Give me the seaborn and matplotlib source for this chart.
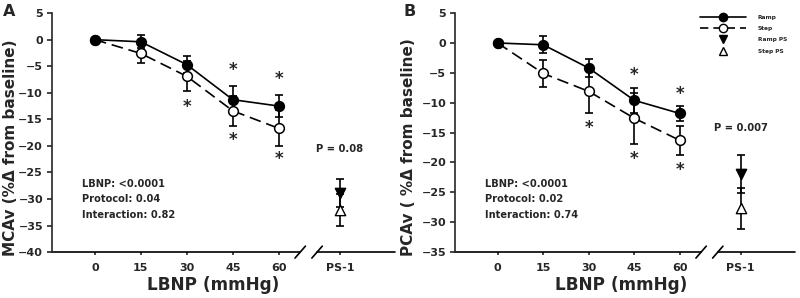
import numpy as np
import pandas as pd
import matplotlib
matplotlib.use("Agg")
import matplotlib.pyplot as plt
from matplotlib.lines import Line2D
import seaborn as sns

sns.set_style("ticks")
plt.rcParams["font.family"] = ["DejaVu Sans"]
plt.rcParams["font.weight"] = "bold"
plt.rcParams["axes.labelweight"] = "bold"

# LBNP levels (mmHg) and post-stress position
lbnp = [0, 15, 30, 45, 60]
ps_pos = 80
xtick_labels = ["0", "15", "30", "45", "60", "PS-1"]

# panel A: MCAv (% change from baseline)
mca_ramp = [0, -0.4, -4.7, -11.3, -12.5]
mca_ramp_err = [0, 1.2, 1.6, 2.5, 2.1]
mca_step = [0, -2.6, -6.9, -13.4, -16.7]
mca_step_err = [0, 1.7, 2.8, 2.8, 3.4]
mca_ps = [-28.9, -32.0]          # ramp PS, step PS
mca_ps_err = [2.7, 3.0]
mca_star_x = [30, 45, 45, 60, 60]
mca_star_y = [-12.6, -5.8, -18.8, -7.5, -22.5]
mca_stats = "LBNP: <0.0001\nProtocol: 0.04\nInteraction: 0.82"
mca_p = "P = 0.08"

# panel B: PCAv (% change from baseline)
pca_ramp = [0, -0.3, -4.2, -9.6, -11.8]
pca_ramp_err = [0, 1.45, 1.5, 2.1, 1.2]
pca_step = [0, -5.1, -8.1, -12.6, -16.3]
pca_step_err = [0, 2.3, 3.6, 4.3, 2.4]
pca_ps = [-21.9, -27.7]
pca_ps_err = [3.2, 3.4]
pca_star_x = [30, 45, 45, 60, 60]
pca_star_y = [-14.2, -5.4, -19.4, -8.6, -21.2]
pca_stats = "LBNP: <0.0001\nProtocol: 0.02\nInteraction: 0.74"
pca_p = "P = 0.007"


def draw_panel(ax, ramp, ramp_err, step, step_err, ps, ps_err,
               star_x, star_y, stats, ptxt, ylab, ylim, stats_y, p_y,
               ylab_pos, xlab_x):
    df = pd.DataFrame({"LBNP": lbnp * 2,
                       "val": ramp + step,
                       "err": ramp_err + step_err,
                       "protocol": ["Ramp"] * 5 + ["Step"] * 5})
    for prot, ls, mfc, z in [("Step", (0, (7, 3.5)), "white", 3), ("Ramp", "-", "black", 4)]:
        sub = df[df.protocol == prot]
        ax.errorbar(sub.LBNP, sub.val, yerr=sub.err, fmt="none", ecolor="black",
                    elinewidth=1.2, capsize=3.2, capthick=1.2, zorder=2)
        sns.lineplot(data=sub, x="LBNP", y="val", ax=ax, color="black", linestyle=ls,
                     linewidth=1.2, marker="o", markersize=7, markerfacecolor=mfc,
                     markeredgecolor="black", markeredgewidth=1.1, errorbar=None,
                     zorder=z)
    # post-stress points
    ax.errorbar([ps_pos, ps_pos], ps, yerr=ps_err, fmt="none", ecolor="black",
                elinewidth=1.2, capsize=3.2, capthick=1.2, zorder=2)
    psdf = pd.DataFrame({"x": [ps_pos, ps_pos], "y": ps, "kind": ["Ramp PS", "Step PS"]})
    sns.scatterplot(data=psdf[psdf.kind == "Ramp PS"], x="x", y="y", ax=ax, marker="v",
                    s=55, color="black", edgecolor="black", linewidth=1, zorder=4)
    sns.scatterplot(data=psdf[psdf.kind == "Step PS"], x="x", y="y", ax=ax, marker="^",
                    s=55, color="white", edgecolor="black", linewidth=1, zorder=4)
    for sx, sy in zip(star_x, star_y):
        ax.text(sx, sy, "*", ha="center", va="center", fontsize=12, fontweight="bold")
    ax.text(-4.3, stats_y, stats, ha="left", va="top", fontsize=7.1,
            fontweight="bold", linespacing=1.7)
    ax.text(ps_pos, p_y, ptxt, ha="center", va="center", fontsize=7.2, fontweight="bold")

    ax.set_xlim(-14, 98)
    ax.set_ylim(*ylim)
    ax.set_yticks(np.arange(ylim[0], ylim[1] + 1, 5))
    ax.set_xticks(lbnp + [ps_pos])
    ax.set_xticklabels(xtick_labels)
    ax.tick_params(axis="both", labelsize=8, width=1.2, length=3.5, pad=3)
    ax.tick_params(axis="x", length=2.5, pad=5)
    ax.set_xlabel("LBNP (mmHg)", fontsize=12.2, labelpad=1)
    ax.xaxis.set_label_coords(xlab_x, -0.1)
    ax.set_ylabel(ylab, fontsize=11)
    ax.yaxis.set_label_coords(*ylab_pos)
    sns.despine(ax=ax)
    ax.spines["left"].set_linewidth(1.2)
    # broken x axis
    ax.spines["bottom"].set_visible(False)
    tr = ax.get_xaxis_transform()
    ax.plot([-14, 67], [0, 0], color="black", lw=1.2, transform=tr, clip_on=False)
    ax.plot([72.5, 98], [0, 0], color="black", lw=1.2, transform=tr, clip_on=False)
    for bx in (67, 72.5):
        ax.plot([bx - 1.7, bx + 1.7], [-0.025, 0.025], color="black", lw=1.2,
                transform=tr, clip_on=False)


fig = plt.figure(figsize=(8, 2.98), dpi=100)
axA = fig.add_axes([0.065, 0.154, 0.429, 0.802])
axB = fig.add_axes([0.569, 0.154, 0.425, 0.802])

draw_panel(axA, mca_ramp, mca_ramp_err, mca_step, mca_step_err, mca_ps, mca_ps_err,
           mca_star_x, mca_star_y, mca_stats, mca_p, "MCAv (%\u0394 from baseline)",
           (-40, 5), -26.2, -20.6, (-0.1, 0.435), 0.47)
draw_panel(axB, pca_ramp, pca_ramp_err, pca_step, pca_step_err, pca_ps, pca_ps_err,
           pca_star_x, pca_star_y, pca_stats, pca_p, "PCAv ( %\u0394 from baseline)",
           (-35, 5), -22.7, -14.3, (-0.115, 0.44), 0.488)

handles = [
    Line2D([], [], color="black", lw=1.2, marker="o", ms=6, mfc="black", mec="black"),
    Line2D([], [], color="black", lw=1.2, ls=(0, (5, 3)), marker="o", ms=6, mfc="white", mec="black"),
    Line2D([], [], color="black", lw=0, marker="v", ms=6, mfc="black", mec="black"),
    Line2D([], [], color="black", lw=0, marker="^", ms=6, mfc="white", mec="black"),
]
axB.legend(handles, ["Ramp", "Step", "Ramp PS", "Step PS"], loc="upper left",
           bbox_to_anchor=(0.712, 1.005), frameon=False, prop={"size": 4.2, "weight": "bold"},
           handlelength=7.9, handletextpad=2.0, labelspacing=1.05, borderpad=0)

fig.text(0.004, 0.985, "A", fontsize=11.5, fontweight="bold", va="top")
fig.text(0.504, 0.985, "B", fontsize=11.5, fontweight="bold", va="top")

fig.savefig("out.png", dpi=100)
